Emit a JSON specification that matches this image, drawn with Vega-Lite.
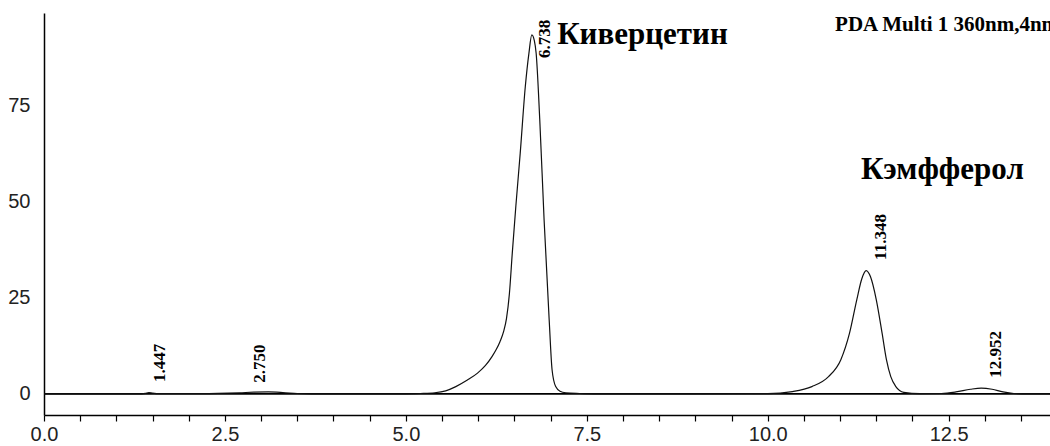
{
  "$schema": "https://vega.github.io/schema/vega-lite/v6.json",
  "width": 1006,
  "height": 402,
  "autosize": {"type": "none"},
  "padding": {"left": 44, "top": 13, "right": 0, "bottom": 31},
  "background": "white",
  "config": {"view": {"stroke": null}},
  "datasets": {
    "signal": [
      {"t": 0, "v": 0}, {"t": 1.3, "v": 0}, {"t": 1.4, "v": 0.15}, {"t": 1.45, "v": 0.35}, {"t": 1.5, "v": 0.2}, {"t": 1.6, "v": 0.05},
      {"t": 2.0, "v": 0.05}, {"t": 2.4, "v": 0.15}, {"t": 2.7, "v": 0.3}, {"t": 2.9, "v": 0.45}, {"t": 3.1, "v": 0.5}, {"t": 3.3, "v": 0.35}, {"t": 3.5, "v": 0.1}, {"t": 3.7, "v": 0},
      {"t": 5.0, "v": 0}, {"t": 5.2, "v": 0.1}, {"t": 5.4, "v": 0.3}, {"t": 5.55, "v": 0.8}, {"t": 5.69, "v": 1.9}, {"t": 5.85, "v": 3.6}, {"t": 5.99, "v": 5.4},
      {"t": 6.1, "v": 7.4}, {"t": 6.19, "v": 9.7}, {"t": 6.25, "v": 11.6}, {"t": 6.3, "v": 13.6}, {"t": 6.35, "v": 16.2}, {"t": 6.39, "v": 19.6},
      {"t": 6.43, "v": 26}, {"t": 6.47, "v": 36.6}, {"t": 6.52, "v": 49}, {"t": 6.58, "v": 62.7}, {"t": 6.65, "v": 80}, {"t": 6.7, "v": 88.7},
      {"t": 6.74, "v": 93.5}, {"t": 6.775, "v": 92}, {"t": 6.8, "v": 88.7}, {"t": 6.85, "v": 71.4}, {"t": 6.91, "v": 45.3}, {"t": 6.98, "v": 19.3},
      {"t": 7.02, "v": 6.3}, {"t": 7.07, "v": 1.9}, {"t": 7.13, "v": 0.7}, {"t": 7.21, "v": 0.3}, {"t": 7.4, "v": 0.1}, {"t": 7.6, "v": 0},
      {"t": 10.0, "v": 0.05}, {"t": 10.34, "v": 0.6}, {"t": 10.61, "v": 1.9}, {"t": 10.84, "v": 4.5}, {"t": 11.01, "v": 8.9}, {"t": 11.13, "v": 15.8},
      {"t": 11.23, "v": 24.5}, {"t": 11.3, "v": 30}, {"t": 11.36, "v": 32.1}, {"t": 11.42, "v": 30.5}, {"t": 11.5, "v": 24.5}, {"t": 11.58, "v": 15.8},
      {"t": 11.64, "v": 8.9}, {"t": 11.7, "v": 4.5}, {"t": 11.77, "v": 1.9}, {"t": 11.88, "v": 0.4}, {"t": 12.1, "v": 0.05},
      {"t": 12.4, "v": 0.1}, {"t": 12.6, "v": 0.5}, {"t": 12.8, "v": 1.2}, {"t": 12.95, "v": 1.5}, {"t": 13.1, "v": 1.2}, {"t": 13.25, "v": 0.5}, {"t": 13.4, "v": 0.1}, {"t": 13.6, "v": 0}, {"t": 13.9, "v": 0}
    ],
    "peaks": [
      {"label": "1.447", "t": 1.6, "v": 3.1},
      {"label": "2.750", "t": 2.98, "v": 2.9},
      {"label": "6.738", "t": 6.92, "v": 87.5},
      {"label": "11.348", "t": 11.57, "v": 34.9},
      {"label": "12.952", "t": 13.16, "v": 4.2}
    ],
    "notes": [
      {"label": "Киверцетин", "t": 7.09, "v": 91.2, "size": "big"},
      {"label": "Кэмфферол", "t": 11.29, "v": 56, "size": "big"},
      {"label": "PDA Multi 1 360nm,4nm", "t": 10.93, "v": 94.5, "size": "small"}
    ]
  },
  "resolve": {"axis": {"x": "independent"}},
  "layer": [
    {
      "data": {"values": [{"z": 0}]},
      "mark": {"type": "rule", "color": "#000", "strokeWidth": 1.6},
      "encoding": {"y": {"field": "z", "type": "quantitative", "scale": {"domain": [-5.5, 99.2]}}}
    },
    {
      "data": {"name": "signal"},
      "mark": {"type": "line", "color": "#111", "strokeWidth": 1.2, "interpolate": "monotone", "clip": true},
      "encoding": {
        "x": {
          "field": "t", "type": "quantitative",
          "scale": {"domain": [0, 13.9], "nice": false, "zero": false},
          "axis": {
            "orient": "bottom", "title": null, "grid": false,
            "values": [0, 2.5, 5, 7.5, 10, 12.5],
            "format": ".1f",
            "domainColor": "#000", "domainWidth": 1.5, "tickColor": "#000", "tickWidth": 1.2, "tickSize": 6,
            "labelFont": "Liberation Sans", "labelFontSize": 20, "labelColor": "#222", "labelPadding": 3, "labelFlush": false, "labelOverlap": false
          }
        },
        "y": {
          "field": "v", "type": "quantitative",
          "scale": {"domain": [-5.5, 99.2], "nice": false, "zero": false},
          "axis": {
            "title": null, "grid": false, "values": [0, 25, 50, 75], "ticks": false, "labelOverlap": false,
            "domainColor": "#000", "domainWidth": 1.5,
            "labelFont": "Liberation Sans", "labelFontSize": 20, "labelColor": "#222", "labelPadding": 14
          }
        }
      }
    },
    {
      "data": {"name": "peaks"},
      "mark": {"type": "text", "angle": 270, "align": "left", "baseline": "middle", "font": "Liberation Serif", "fontWeight": "bold", "fontSize": 17, "color": "#000"},
      "encoding": {
        "x": {
          "field": "t", "type": "quantitative",
          "axis": {
            "orient": "bottom", "title": null, "grid": false, "labels": false, "domain": false,
            "values": [0.5, 1, 1.5, 2, 3, 3.5, 4, 4.5, 5.5, 6, 6.5, 7, 8, 8.5, 9, 9.5, 10.5, 11, 11.5, 12, 13, 13.5],
            "tickColor": "#000", "tickWidth": 1.2, "tickSize": 6
          }
        },
        "y": {"field": "v", "type": "quantitative"},
        "text": {"field": "label"}
      }
    },
    {
      "data": {"name": "notes"},
      "mark": {"type": "text", "align": "left", "baseline": "alphabetic", "font": "Liberation Serif", "fontWeight": "bold", "color": "#000", "clip": false},
      "encoding": {
        "x": {"field": "t", "type": "quantitative", "axis": null},
        "y": {"field": "v", "type": "quantitative"},
        "text": {"field": "label"},
        "size": {"field": "size", "type": "nominal", "scale": {"domain": ["big", "small"], "range": [31, 21]}, "legend": null}
      }
    }
  ]
}
